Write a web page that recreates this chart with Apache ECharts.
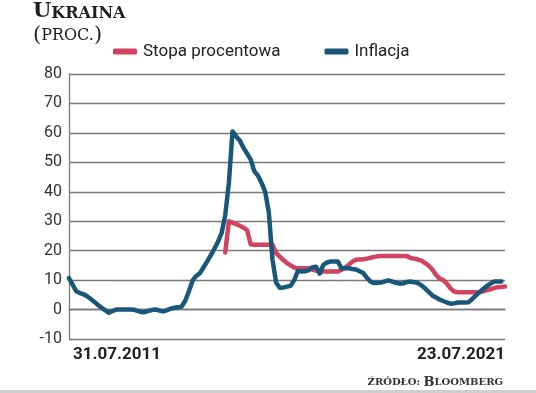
<!DOCTYPE html>
<html>
<head>
<meta charset="utf-8">
<script src="https://cdn.jsdelivr.net/npm/echarts@6/dist/echarts.min.js"></script>
<style>
html,body{margin:0;padding:0;background:#fff;}
#c{width:536px;height:393px;}
</style>
</head>
<body>
<div id="c"></div>
<script>
// Monthly points, Jul 2011 .. Jul 2021
const startYear = 2011, startMonth = 7, nMonths = 121;
const xTickLabels = ['31.07.2011', '23.07.2021'];
const yTicks = [-10, 0, 10, 20, 30, 40, 50, 60, 70, 80];
const seriesNames = ['Stopa procentowa', 'Inflacja'];

const inflacja = [
  10.7, 8.5, 6.2, 5.6, 5.2, 4.5, 3.6, 2.6, 1.5, 0.6,
  -0.3, -1.1, -0.5, 0, 0, 0, 0, 0, -0.1, -0.5,
  -0.9, -0.8, -0.4, -0.1, 0, -0.4, -0.6, -0.2, 0.3, 0.6,
  0.8, 1, 3, 6.2, 9.8, 11.4, 12.3, 14.3, 16.3, 18.4,
  20.6, 23, 26, 32, 43, 60.5, 58.8, 57.4, 55, 53,
  51, 47, 45.5, 43, 40, 33, 17, 9.2, 7.4, 7.5,
  7.8, 8.1, 10, 13.2, 12.9, 13, 13.4, 14.4, 14.5, 12.2,
  15.2, 16, 16.3, 16.3, 16.3, 14, 14, 14, 13.8, 13.6,
  13, 12.4, 10.8, 9.5, 9, 9.1, 9.2, 9.6, 9.9, 9.5,
  9.1, 8.8, 8.9, 9.4, 9.5, 9.3, 9, 8.2, 7.2, 6,
  4.8, 4.1, 3.4, 2.9, 2.4, 2, 2.1, 2.4, 2.4, 2.4,
  2.5, 3.6, 4.8, 5.9, 7, 8, 8.8, 9.5, 9.5, 9.5,
  null
];

const stopa = [
  null, null, null, null, null, null, null, null, null, null,
  null, null, null, null, null, null, null, null, null, null,
  null, null, null, null, null, null, null, null, null, null,
  null, null, null, null, null, null, null, null, null, null,
  null, null, null, 19.4, 30, 29.5, 29, 28.5, 27.8, 27,
  22.2, 22, 22, 22, 22, 22, 22, 19.2, 18, 16.8,
  15.8, 15, 14.3, 14, 14, 14, 14, 13.6, 13.2, 12.9,
  12.9, 12.9, 12.9, 12.9, 12.9, 13.5, 14.2, 15.2, 16.3, 16.9,
  17, 17.1, 17.3, 17.6, 17.9, 18.1, 18.2, 18.2, 18.2, 18.2,
  18.2, 18.2, 18.2, 18.2, 17.5, 17.3, 17, 16.6, 15.8, 14.9,
  13.6, 11.8, 10.5, 10, 8.8, 7.2, 6.1, 5.9, 5.9, 5.9,
  5.9, 5.9, 5.9, 5.9, 6.2, 6.6, 6.9, 7.3, 7.6, 7.7,
  7.8
];

const categories = [];
for (let i = 0; i < nMonths; i++) {
  const m = startMonth - 1 + i;
  const y = startYear + Math.floor(m / 12);
  const mm = (m % 12) + 1;
  categories.push(y + '-' + (mm < 10 ? '0' : '') + mm);
}

const RED = '#d1435f';
const BLUE = '#19577a';
const GRID = '#7a7a7a';
const sans = 'Roboto, "Noto Sans", sans-serif';
const serif = '"DejaVu Serif", serif';

const chart = echarts.init(document.getElementById('c'), null, {renderer: 'canvas'});
chart.setOption({
  animation: false,
  backgroundColor: '#fff',
  grid: {left: 69, right: 31, top: 74, bottom: 54},
  legend: {
    left: 113, top: 43, padding: 0,
    itemWidth: 24, itemHeight: 6, itemGap: 44,
    icon: 'roundRect',
    data: seriesNames,
    textStyle: {fontFamily: sans, fontSize: 17, color: '#222', padding: [0, 0, 0, 1]}
  },
  xAxis: {
    type: 'category',
    data: categories,
    boundaryGap: false,
    axisLine: {show: true, lineStyle: {color: GRID, width: 1.3}},
    axisTick: {show: false},
    splitLine: {show: false},
    axisLabel: {
      interval: function (idx) { return idx === 0 || idx === nMonths - 1; },
      formatter: function (v, idx) { return idx === 0 ? xTickLabels[0] : xTickLabels[1]; },
      alignMinLabel: 'left', alignMaxLabel: 'right',
      margin: 7,
      padding: [0, 0, 0, 4],
      fontFamily: sans, fontSize: 17, fontWeight: 'bold', color: '#1f1f1f'
    }
  },
  yAxis: {
    type: 'value',
    min: yTicks[0], max: yTicks[yTicks.length - 1], interval: 10,
    axisLine: {show: true, lineStyle: {color: GRID, width: 1.3}},
    axisTick: {show: false},
    splitLine: {show: true, lineStyle: {color: GRID, width: 1.3}},
    axisLabel: {margin: 7, fontFamily: sans, fontSize: 16, color: '#333'}
  },
  series: [
    {
      name: seriesNames[0], type: 'line', data: stopa,
      symbol: 'none', connectNulls: false,
      lineStyle: {color: RED, width: 4.5, join: 'round', cap: 'round'},
      itemStyle: {color: RED}, z: 2
    },
    {
      name: seriesNames[1], type: 'line', data: inflacja,
      symbol: 'none',
      lineStyle: {color: BLUE, width: 4.5, join: 'round', cap: 'round'},
      itemStyle: {color: BLUE}, z: 3
    }
  ],
  graphic: [
    {
      type: 'text', left: 33, top: 1,
      style: {
        text: '{a|U}{b|KRAINA}',
        rich: {
          a: {fontFamily: serif, fontWeight: 'bold', fontSize: 21, fill: '#1e1e1e', verticalAlign: 'bottom'},
          b: {fontFamily: serif, fontWeight: 'bold', fontSize: 16, fill: '#1e1e1e', verticalAlign: 'bottom'}
        }
      }
    },
    {
      type: 'text', left: 33, top: 25,
      style: {
        text: '{p|(}{b|PROC.}{p|)}',
        rich: {
          p: {fontFamily: serif, fontSize: 21, fill: '#1e1e1e'},
          b: {fontFamily: serif, fontSize: 16, fill: '#1e1e1e'}
        }
      }
    },
    {
      type: 'text', right: 33, top: 376,
      style: {
        text: '{b|ŹRÓDŁO: }{a|B}{b|LOOMBERG}',
        rich: {
          a: {fontFamily: serif, fontWeight: 'bold', fontSize: 13, fill: '#333'},
          b: {fontFamily: serif, fontWeight: 'bold', fontSize: 10, fill: '#333'}
        }
      }
    },
    {
      type: 'rect', left: 0, top: 390, shape: {width: 536, height: 3},
      style: {fill: '#cfcfcf'}
    }
  ]
});
</script>
</body>
</html>
